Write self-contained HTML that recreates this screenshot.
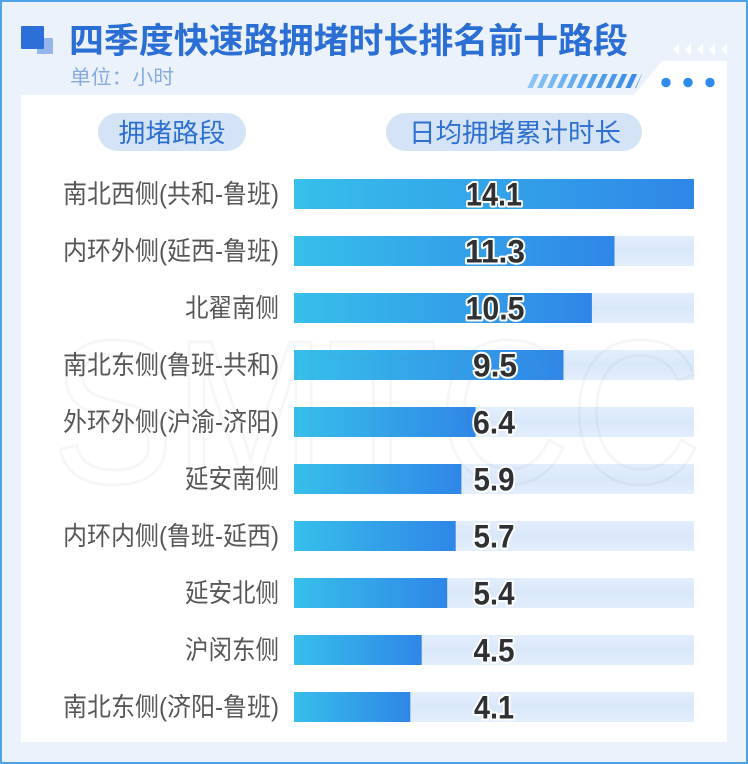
<!DOCTYPE html>
<html>
<head>
<meta charset="utf-8">
<style>
html,body{margin:0;padding:0;background:#fff;}
svg{display:block;}
</style>
</head>
<body>
<svg width="748" height="764" viewBox="0 0 748 764" xmlns="http://www.w3.org/2000/svg">
  <defs>
    <linearGradient id="bar" x1="0" y1="0" x2="1" y2="0">
      <stop offset="0" stop-color="#37BFEA"/>
      <stop offset="1" stop-color="#2F86E7"/>
    </linearGradient>
    <linearGradient id="track" x1="0" y1="0" x2="0" y2="1">
      <stop offset="0" stop-color="#E3EEFC"/>
      <stop offset="0.5" stop-color="#DAE8FB"/>
      <stop offset="1" stop-color="#E3EEFC"/>
    </linearGradient>
    <linearGradient id="stripe" x1="0" y1="0" x2="1" y2="0">
      <stop offset="0" stop-color="#8CC8F6"/>
      <stop offset="1" stop-color="#3286E4"/>
    </linearGradient>
    <pattern id="stripes" patternUnits="userSpaceOnUse" width="9.8" height="14" patternTransform="skewX(-25)">
      <rect x="0" y="0" width="5.2" height="14" fill="#fff"/>
    </pattern>
    <mask id="stripeMask">
      <rect x="500" y="70" width="160" height="20" fill="url(#stripes)"/>
    </mask>
  </defs>

  <!-- outer background and border -->
  <rect x="0" y="0" width="748" height="764" fill="#4DA2E8"/>
  <rect x="2" y="2" width="744" height="760" fill="#EBF2FB"/>

  <!-- white panel with notch -->
  <polygon points="21,95 634,95 662,61 727,61 727,742 21,742" fill="#FFFFFF"/>

  <!-- title icon -->
  <rect x="37" y="38" width="16" height="16" fill="#94B6EA"/>
  <rect x="21" y="26" width="23" height="23" rx="1" fill="#2D6FD8"/>

  <!-- title -->
  <text x="69" y="53" font-family="'Liberation Sans','Noto Sans CJK SC',sans-serif" font-size="35" font-weight="700" fill="#2B6ED4" textLength="559" lengthAdjust="spacingAndGlyphs">四季度快速路拥堵时长排名前十路段</text>
  <text x="70" y="84" font-family="'Liberation Sans','Noto Sans CJK SC',sans-serif" font-size="20" fill="#87ABDF" textLength="104" lengthAdjust="spacingAndGlyphs">单位：小时</text>

  <!-- chevrons -->
  <g fill="#FFFFFF">
    <polygon points="673,49.5 679,43 679,56"/>
    <polygon points="685,49.5 691,43 691,56"/>
    <polygon points="697,49.5 703,43 703,56"/>
    <polygon points="709,49.5 715,43 715,56"/>
    <polygon points="721,49.5 727,43 727,56"/>
  </g>

  <!-- stripes -->
  <polygon points="530,74 642,74 636,88 524,88" fill="url(#stripe)" mask="url(#stripeMask)"/>

  <!-- dots -->
  <g fill="#2E8BEA">
    <circle cx="666" cy="82.5" r="4.7"/>
    <circle cx="688" cy="82.5" r="4.7"/>
    <circle cx="710" cy="82.5" r="4.7"/>
  </g>

  <!-- header pills -->
  <rect x="98" y="113" width="148" height="38" rx="19" fill="#D5E3F6"/>
  <text x="172" y="142" text-anchor="middle" font-family="'Liberation Sans','Noto Sans CJK SC',sans-serif" font-size="26" fill="#2D70CF" textLength="107" lengthAdjust="spacingAndGlyphs">拥堵路段</text>
  <rect x="386" y="113" width="256" height="38" rx="19" fill="#D5E3F6"/>
  <text x="515" y="142" text-anchor="middle" font-family="'Liberation Sans','Noto Sans CJK SC',sans-serif" font-size="26" fill="#2D70CF" textLength="212" lengthAdjust="spacingAndGlyphs">日均拥堵累计时长</text>

  <!-- tracks -->
  <g fill="url(#track)">
    <rect x="294" y="179" width="400" height="30"/>
    <rect x="294" y="236" width="400" height="30"/>
    <rect x="294" y="293" width="400" height="30"/>
    <rect x="294" y="350" width="400" height="30"/>
    <rect x="294" y="407" width="400" height="30"/>
    <rect x="294" y="464" width="400" height="30"/>
    <rect x="294" y="521" width="400" height="30"/>
    <rect x="294" y="578" width="400" height="30"/>
    <rect x="294" y="635" width="400" height="30"/>
    <rect x="294" y="692" width="400" height="30"/>
  </g>

  <!-- bars -->
  <g fill="url(#bar)">
    <rect x="294" y="179" width="400" height="30"/>
    <rect x="294" y="236" width="320.5" height="30"/>
    <rect x="294" y="293" width="297.9" height="30"/>
    <rect x="294" y="350" width="269.5" height="30"/>
    <rect x="294" y="407" width="181.6" height="30"/>
    <rect x="294" y="464" width="167.4" height="30"/>
    <rect x="294" y="521" width="161.7" height="30"/>
    <rect x="294" y="578" width="153.2" height="30"/>
    <rect x="294" y="635" width="127.7" height="30"/>
    <rect x="294" y="692" width="116.3" height="30"/>
  </g>

  <!-- watermark -->
  <text x="52" y="483" font-family="'Liberation Sans',sans-serif" font-size="205" fill="none" stroke="#8090A8" stroke-opacity="0.08" stroke-width="3" stroke-linejoin="round" textLength="650" lengthAdjust="spacingAndGlyphs">SMTCC</text>

  <!-- labels -->
  <g font-family="'Liberation Sans','Noto Sans CJK SC',sans-serif" font-size="26" fill="#575757" text-anchor="end">
    <text x="279" y="203" textLength="216" lengthAdjust="spacingAndGlyphs">南北西侧(共和-鲁班)</text>
    <text x="279" y="260" textLength="216" lengthAdjust="spacingAndGlyphs">内环外侧(延西-鲁班)</text>
    <text x="279" y="317" textLength="94" lengthAdjust="spacingAndGlyphs">北翟南侧</text>
    <text x="279" y="374" textLength="216" lengthAdjust="spacingAndGlyphs">南北东侧(鲁班-共和)</text>
    <text x="279" y="431" textLength="216" lengthAdjust="spacingAndGlyphs">外环外侧(沪渝-济阳)</text>
    <text x="279" y="488" textLength="94" lengthAdjust="spacingAndGlyphs">延安南侧</text>
    <text x="279" y="545" textLength="216" lengthAdjust="spacingAndGlyphs">内环内侧(鲁班-延西)</text>
    <text x="279" y="602" textLength="94" lengthAdjust="spacingAndGlyphs">延安北侧</text>
    <text x="279" y="659" textLength="94" lengthAdjust="spacingAndGlyphs">沪闵东侧</text>
    <text x="279" y="716" textLength="216" lengthAdjust="spacingAndGlyphs">南北东侧(济阳-鲁班)</text>
  </g>

  <!-- values -->
  <g font-family="'Liberation Sans',sans-serif" font-size="32" font-weight="700" fill="#2F3033" stroke="#FFFFFF" stroke-width="4" stroke-linejoin="round" paint-order="stroke" text-anchor="middle">
    <text x="494" y="205.5" textLength="56" lengthAdjust="spacingAndGlyphs">14.1</text>
    <text x="495" y="262.5" textLength="60" lengthAdjust="spacingAndGlyphs">11.3</text>
    <text x="495" y="319.5" textLength="59" lengthAdjust="spacingAndGlyphs">10.5</text>
    <text x="495" y="376.5" textLength="44" lengthAdjust="spacingAndGlyphs">9.5</text>
    <text x="494" y="433.5" textLength="42" lengthAdjust="spacingAndGlyphs">6.4</text>
    <text x="494" y="490.5" textLength="41" lengthAdjust="spacingAndGlyphs">5.9</text>
    <text x="494" y="547.5" textLength="41" lengthAdjust="spacingAndGlyphs">5.7</text>
    <text x="494" y="604.5" textLength="41" lengthAdjust="spacingAndGlyphs">5.4</text>
    <text x="494" y="661.5" textLength="41" lengthAdjust="spacingAndGlyphs">4.5</text>
    <text x="494" y="718.5" textLength="40" lengthAdjust="spacingAndGlyphs">4.1</text>
  </g>
</svg>
</body>
</html>
